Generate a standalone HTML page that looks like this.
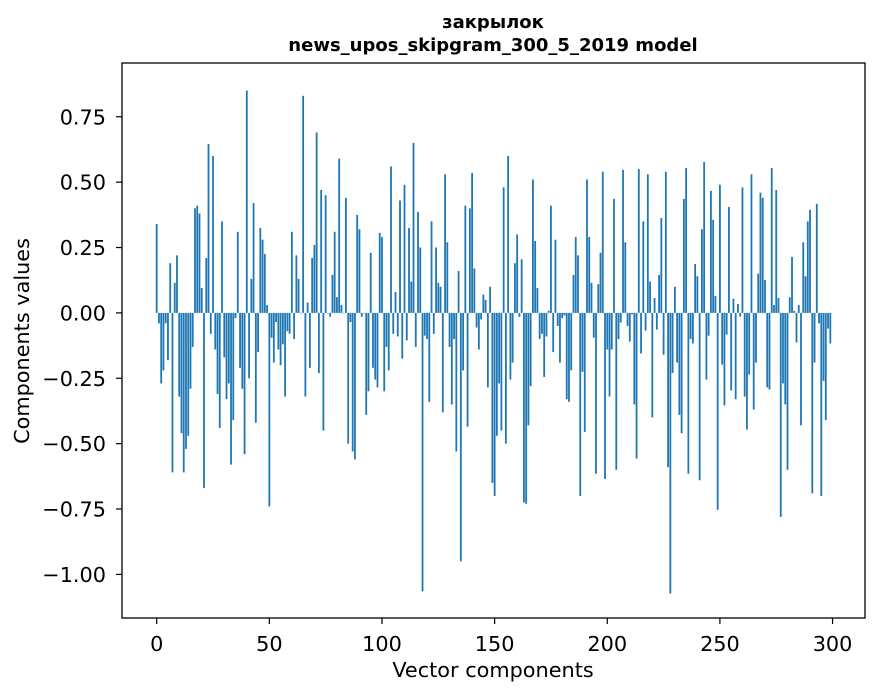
<!DOCTYPE html>
<html><head><meta charset="utf-8"><style>
body{margin:0;background:#fff;}
svg{display:block;font-family:"DejaVu Sans","Liberation Sans",sans-serif;}
</style></head><body>
<svg id="chart" width="880" height="696" viewBox="0 0 880 696">
<rect x="0" y="0" width="880" height="696" fill="#fff"/>
<text x="493" y="28" text-anchor="middle" font-size="18" font-weight="bold">закрылок</text>
<text x="493" y="51" text-anchor="middle" font-size="18" font-weight="bold">news_upos_skipgram_300_5_2019 model</text>
<g id="bars"></g>
<g id="axes"></g>
<text x="493" y="677" text-anchor="middle" font-size="20.8">Vector components</text>
<text transform="translate(29,341) rotate(-90)" text-anchor="middle" font-size="20.8">Components values</text>
</svg>
<script>
const values = [
0.34,-0.04,-0.27,-0.22,-0.04,-0.18,0.19,-0.61,0.115,0.22,-0.32,-0.46,-0.61,-0.52,-0.47,-0.29,-0.13,0.40,0.41,0.38,
0.095,-0.67,0.21,0.646,-0.08,0.60,-0.14,-0.31,-0.44,0.35,-0.17,-0.33,-0.27,-0.58,-0.41,-0.02,0.31,-0.21,-0.29,-0.54,
0.85,-0.25,0.13,0.42,-0.42,-0.15,0.325,0.28,0.225,0.03,-0.74,-0.095,-0.19,-0.035,-0.14,-0.2,-0.12,-0.32,-0.07,-0.08,
0.31,-0.10,0.22,0.13,0.0,0.83,-0.32,0.04,-0.21,0.21,0.26,0.69,-0.23,0.47,-0.45,0.45,0.0,-0.015,0.145,0.31,
0.06,0.59,0.03,0.0,0.44,-0.50,-0.035,-0.53,-0.56,0.375,0.32,-0.015,0.0,-0.39,-0.30,0.23,-0.21,-0.255,-0.285,0.306,
0.29,-0.30,-0.13,-0.22,0.56,-0.08,0.08,-0.09,0.43,-0.175,0.49,-0.105,0.325,0.12,0.65,-0.13,0.386,0.25,-1.065,-0.087,
-0.10,-0.34,0.35,-0.08,0.25,0.115,0.10,-0.38,0.53,0.27,-0.13,-0.35,-0.10,-0.53,0.16,-0.95,-0.22,0.41,-0.435,0.40,
0.535,0.17,-0.056,-0.14,-0.025,0.07,0.05,-0.285,0.10,-0.65,-0.70,-0.47,-0.27,-0.45,0.48,-0.50,0.60,-0.255,-0.19,0.19,
0.30,-0.015,0.205,-0.725,-0.73,-0.43,-0.28,0.51,0.275,0.095,-0.10,-0.08,-0.245,-0.09,0.008,0.41,-0.15,0.28,-0.05,-0.19,
-0.02,-0.01,-0.33,-0.34,-0.22,0.145,0.29,0.22,-0.70,-0.225,-0.455,0.51,0.29,0.115,-0.095,-0.615,0.11,0.23,0.54,-0.635,
-0.14,-0.32,-0.14,0.436,-0.60,-0.10,-0.037,0.547,0.27,-0.05,-0.11,-0.006,-0.35,-0.557,0.55,-0.155,0.35,-0.068,0.53,0.12,
-0.40,0.057,-0.064,0.145,0.363,-0.16,0.54,-0.59,-1.073,-0.23,0.10,-0.19,-0.39,-0.46,0.436,0.554,-0.615,-0.10,-0.117,0.187,
0.14,-0.64,0.32,0.577,-0.255,-0.087,0.467,0.356,0.065,-0.753,0.49,-0.198,-0.354,-0.083,0.405,-0.297,0.054,-0.33,0.034,-0.014,
0.48,-0.32,-0.446,-0.236,0.53,-0.37,-0.19,0.15,0.46,0.44,0.126,-0.285,-0.293,0.554,0.03,0.47,0.057,-0.78,-0.27,-0.35,
-0.60,0.06,0.214,0.008,-0.113,0.03,-0.43,0.27,0.14,0.35,0.394,-0.69,-0.19,0.417,-0.04,-0.70,-0.26,-0.41,-0.06,-0.117
];
const xTicks = [0,50,100,150,200,250,300];
const yTicks = [0.75,0.5,0.25,0,-0.25,-0.5,-0.75,-1.0];
const yTickLabels = ["0.75","0.50","0.25","0.00","−0.25","−0.50","−0.75","−1.00"];

const NS = "http://www.w3.org/2000/svg";
const L = 122, R = 865, T = 63, B = 618;
const xmin = -15.4, xmax = 314.4;
const ymin = -1.1667, ymax = 0.9556;
const xs = v => L + (v - xmin) / (xmax - xmin) * (R - L);
const ys = v => B - (v - ymin) / (ymax - ymin) * (B - T);
const bw = 0.8 * (R - L) / (xmax - xmin);

const gb = document.getElementById('bars');
values.forEach((v, i) => {
  const r = document.createElementNS(NS, 'rect');
  const y0 = ys(0), y1 = ys(v);
  r.setAttribute('x', xs(i) - bw / 2);
  r.setAttribute('y', Math.min(y0, y1));
  r.setAttribute('width', bw);
  r.setAttribute('height', Math.max(0.5, Math.abs(y1 - y0)));
  r.setAttribute('fill', '#1f77b4');
  
  
  gb.appendChild(r);
});

const ga = document.getElementById('axes');
const frame = document.createElementNS(NS, 'rect');
frame.setAttribute('x', L); frame.setAttribute('y', T);
frame.setAttribute('width', R - L); frame.setAttribute('height', B - T);
frame.setAttribute('fill', 'none'); frame.setAttribute('stroke', '#000'); frame.setAttribute('stroke-width', '1.3');


ga.appendChild(frame);

xTicks.forEach(t => {
  const x = xs(t);
  const ln = document.createElementNS(NS, 'line');
  ln.setAttribute('x1', x); ln.setAttribute('x2', x); ln.setAttribute('y1', B); ln.setAttribute('y2', B + 6);
  ln.setAttribute('stroke', '#000'); ln.setAttribute('stroke-width', '1.2');
  
  
  ga.appendChild(ln);
  const tx = document.createElementNS(NS, 'text');
  tx.setAttribute('x', x); tx.setAttribute('y', B + 33);
  tx.setAttribute('text-anchor', 'middle'); tx.setAttribute('font-size', '20.8');
  tx.textContent = t;
  
  
  ga.appendChild(tx);
});
yTicks.forEach((t, k) => {
  const y = ys(t);
  const ln = document.createElementNS(NS, 'line');
  ln.setAttribute('x1', L - 6); ln.setAttribute('x2', L); ln.setAttribute('y1', y); ln.setAttribute('y2', y);
  ln.setAttribute('stroke', '#000'); ln.setAttribute('stroke-width', '1.2');
  
  
  ga.appendChild(ln);
  const tx = document.createElementNS(NS, 'text');
  tx.setAttribute('x', L - 16); tx.setAttribute('y', y + 7.5);
  tx.setAttribute('text-anchor', 'end'); tx.setAttribute('font-size', '20.8');
  tx.textContent = yTickLabels[k];
  
  
  ga.appendChild(tx);
});
</script>
</body></html>
